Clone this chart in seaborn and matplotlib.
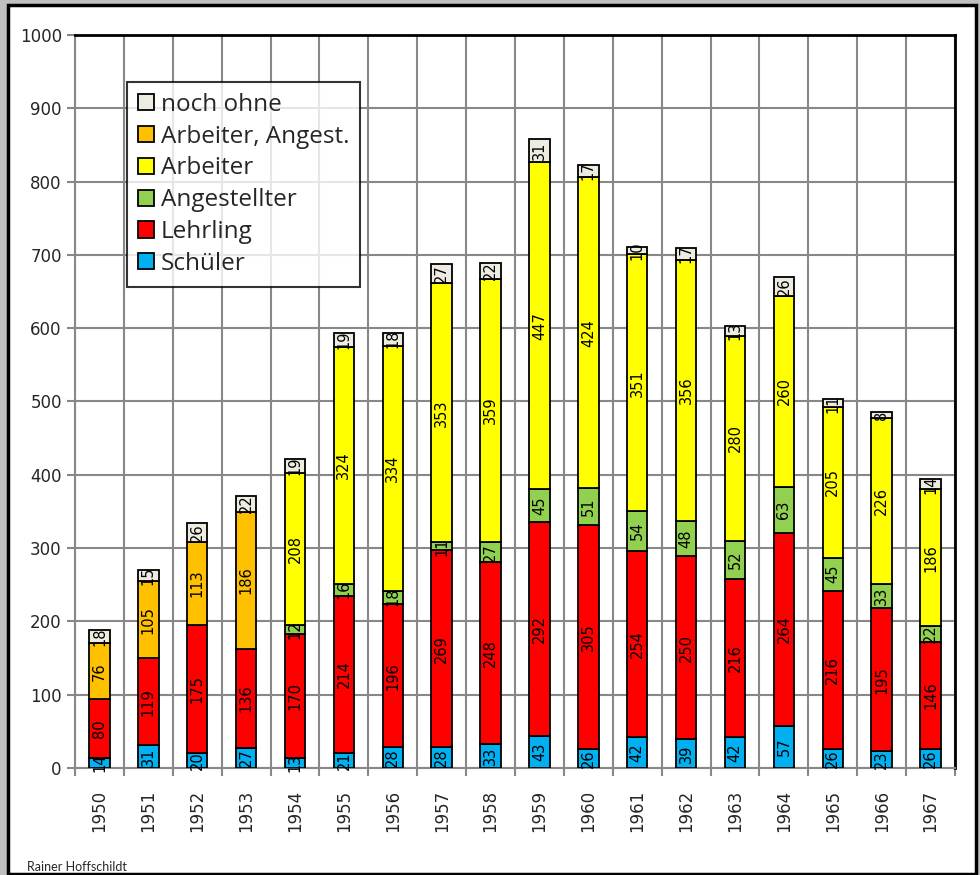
import pandas as pd
import matplotlib.pyplot as plt
import seaborn as sns
from matplotlib.patches import Patch, Rectangle
from matplotlib.ticker import MultipleLocator

sns.set_style("white")
plt.rcParams["font.family"] = ["DejaVu Sans"]

jahre = list(range(1950, 1968))
schueler = [14, 31, 20, 27, 13, 21, 28, 28, 33, 43, 26, 42, 39, 42, 57, 26, 23, 26]
lehrling = [80, 119, 175, 136, 170, 214, 196, 269, 248, 292, 305, 254, 250, 216, 264, 216, 195, 146]
angestellter = [0, 0, 0, 0, 12, 16, 18, 11, 27, 45, 51, 54, 48, 52, 63, 45, 33, 22]
arbeiter = [0, 0, 0, 0, 208, 324, 334, 353, 359, 447, 424, 351, 356, 280, 260, 205, 226, 186]
arb_ang = [76, 105, 113, 186, 0, 0, 0, 0, 0, 0, 0, 0, 0, 0, 0, 0, 0, 0]
noch_ohne = [18, 15, 26, 22, 19, 19, 18, 27, 22, 31, 17, 10, 17, 13, 26, 11, 8, 14]

gruppen = ["noch ohne", "Arbeiter, Angest.", "Arbeiter", "Angestellter", "Lehrling", "Schüler"]
farben = {"noch ohne": "#EEECE1", "Arbeiter, Angest.": "#FFC000", "Arbeiter": "#FFFF00",
          "Angestellter": "#92D050", "Lehrling": "#FF0000", "Schüler": "#00B0F0"}
werte = {"noch ohne": noch_ohne, "Arbeiter, Angest.": arb_ang, "Arbeiter": arbeiter,
         "Angestellter": angestellter, "Lehrling": lehrling, "Schüler": schueler}

df = pd.DataFrame([(j, g, werte[g][i]) for g in gruppen for i, j in enumerate(jahre)],
                  columns=["Jahr", "Gruppe", "Anzahl"])

fig = plt.figure(figsize=(9.8, 8.75), dpi=100, facecolor="#C0C0C0")
# weisser Rahmen wie im Original
fig.patches.append(Rectangle((8 / 980, 1 / 875), 968 / 980, 869 / 875, transform=fig.transFigure,
                             facecolor="white", edgecolor="black", linewidth=2.5, zorder=-1))
ax = fig.add_axes([75 / 980, (875 - 768) / 875, 880 / 980, 733 / 875])

sns.histplot(data=df, x="Jahr", weights="Anzahl", hue="Gruppe", hue_order=gruppen,
             multiple="stack", discrete=True, shrink=0.42, palette=farben, alpha=1,
             edgecolor="black", linewidth=1.3, legend=False, ax=ax, zorder=3)

for c in ax.containers:
    labels = [f"{int(round(p.get_height()))}" if p.get_height() > 0 else "" for p in c]
    ax.bar_label(c, labels=labels, label_type="center", rotation=90, fontsize=10.5,
                 color="black", zorder=4)

ax.set_xlim(1949.5, 1967.5)
ax.set_ylim(0, 1000)
ax.set_xticks(jahre)
ax.set_xticklabels([str(j) for j in jahre], rotation=90, fontsize=12)
ax.xaxis.set_minor_locator(MultipleLocator(1, offset=0.5))
ax.yaxis.set_major_locator(MultipleLocator(100))
ax.tick_params(axis="y", labelsize=12, length=6, color="#888888", width=1.5, left=True)
ax.tick_params(axis="x", which="major", length=0, pad=16)
ax.tick_params(axis="x", which="minor", length=6, color="#888888", width=1.5, bottom=True)
ax.set_xlabel("")
ax.set_ylabel("")
ax.grid(axis="y", which="major", color="#888888", linewidth=1.5, zorder=0)
ax.grid(axis="x", which="minor", color="#888888", linewidth=1.5, zorder=0)
ax.set_axisbelow(True)
for s in ["left", "bottom"]:
    ax.spines[s].set_color("#888888")
    ax.spines[s].set_linewidth(1.5)
for s in ["top", "right"]:
    ax.spines[s].set_color("black")
    ax.spines[s].set_linewidth(2)

handles = [Patch(facecolor=farben[g], edgecolor="black", linewidth=1.3, label=g) for g in gruppen]
leg = ax.legend(handles=handles, loc="upper left", bbox_to_anchor=(0.059, 0.936),
                prop={"family": "Open Sans", "size": 17.5}, frameon=True, fancybox=False,
                handlelength=0.65, handleheight=0.65, handletextpad=0.3, labelspacing=0.32,
                borderpad=0.45, borderaxespad=0)
leg.get_frame().set_edgecolor("black")
leg.get_frame().set_linewidth(1.5)
leg.set_zorder(5)

fig.text(27 / 980, 2 / 875, "Rainer Hoffschildt", fontsize=9, family="Lato", va="bottom")

fig.savefig("out.png", dpi=100, facecolor=fig.get_facecolor())
